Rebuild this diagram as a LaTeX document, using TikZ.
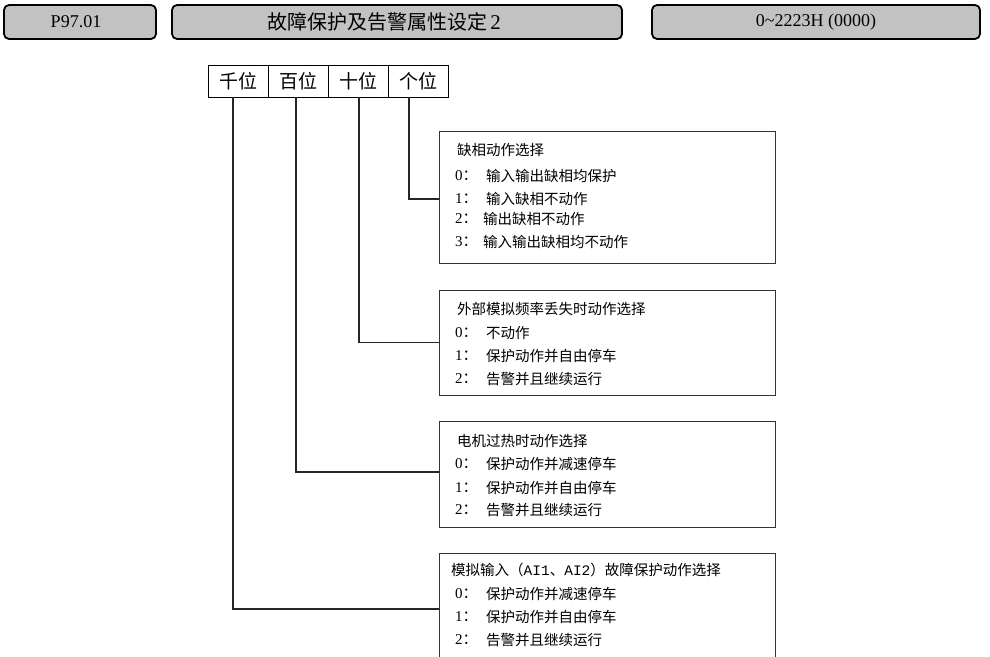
\documentclass[tikz,border=0pt]{standalone}
\usepackage{fontspec}
\setmainfont{Liberation Serif}
\newfontfamily\cjk{Noto Sans CJK SC}
\newfontfamily\mono{Liberation Mono}
\begin{document}
\begin{tikzpicture}[x=1pt,y=-1pt,
  hdr/.style={draw=black, line width=1.8pt, fill=black!24, rounded corners=5pt, inner sep=0pt, minimum height=34pt},
  hdrtext/.style={inner sep=0pt, font=\fontsize{18}{18}\selectfont},
  cell/.style={draw=black, line width=0.8pt, minimum width=60pt, minimum height=32pt, inner sep=0pt, font=\cjk\fontsize{19}{19}\selectfont},
  optbox/.style={draw=black!80, line width=1pt, inner sep=0pt, minimum width=336pt},
  conn/.style={draw=black!85, line width=1.4pt},
  ttl/.style={anchor=west, inner sep=0pt, font=\cjk\fontsize{14.5}{14.5}\selectfont},
  num/.style={anchor=west, inner sep=0pt, font=\fontsize{15}{15}\selectfont},
  opt/.style={anchor=west, inner sep=0pt, font=\cjk\fontsize{14.5}{14.5}\selectfont}]
\useasboundingbox (0,0) rectangle (990,656);

% header boxes
\node[hdr, minimum width=152pt] (h1) at (80,22) {};
\node[hdr, minimum width=450pt] (h2) at (397,22) {};
\node[hdr, minimum width=328pt] (h3) at (816,22) {};
\node[hdrtext] (h1t) at ([xshift=-4pt]h1.center) {P97.01};
\node[hdrtext] (h2t) at ([xshift=-13pt]h2.center) {{\cjk\fontsize{20}{20}\selectfont 故障保护及告警属性设定}\,{\fontsize{21}{21}\selectfont 2}};
\node[hdrtext] (h3t) at (h3.center) {0\textasciitilde2223H (0000)};

% digit table
\node[cell] (c1) at (238,81) {千位};
\node[cell] (c2) at (298,81) {百位};
\node[cell] (c3) at (358,81) {十位};
\node[cell] (c4) at (418,81) {个位};

% option boxes
\node[optbox, minimum height=132pt] (b1) at (607,197) {};
\node[optbox, minimum height=105pt] (b2) at (607,342.5) {};
\node[optbox, minimum height=106pt] (b3) at (607,474) {};
\node[optbox, minimum height=130pt] (b4) at (607,618) {};

% connectors
\draw[conn] ([xshift=-9pt]c4.south) |- ([yshift=-2pt]b1.west);
\draw[conn] ([xshift=1pt]c3.south) |- (b2.west);
\draw[conn] ([xshift=-2pt]c2.south) |- ([yshift=2pt]b3.west);
\draw[conn] ([xshift=-5pt]c1.south) |- ([yshift=9pt]b4.west);

% box 1
\node[ttl] (t1) at (457,150) {缺相动作选择};
\node[num] (n10) at (455,176) {0{\cjk ：}};
\node[opt] (o10) at (486,176) {输入输出缺相均保护};
\node[num] (n11) at (455,199) {1{\cjk ：}};
\node[opt] (o11) at (486,199) {输入缺相不动作};
\node[num] (n12) at (455,219) {2{\cjk ：}};
\node[opt] (o12) at (483,219) {输出缺相不动作};
\node[num] (n13) at (455,242) {3{\cjk ：}};
\node[opt] (o13) at (483,242) {输入输出缺相均不动作};

% box 2
\node[ttl] (t2) at (457,309) {外部模拟频率丢失时动作选择};
\node[num] (n20) at (455,333) {0{\cjk ：}};
\node[opt] (o20) at (486,333) {不动作};
\node[num] (n21) at (455,356) {1{\cjk ：}};
\node[opt] (o21) at (486,356) {保护动作并自由停车};
\node[num] (n22) at (455,379) {2{\cjk ：}};
\node[opt] (o22) at (486,379) {告警并且继续运行};

% box 3
\node[ttl] (t3) at (457,441) {电机过热时动作选择};
\node[num] (n30) at (455,464) {0{\cjk ：}};
\node[opt] (o30) at (486,464) {保护动作并减速停车};
\node[num] (n31) at (455,488) {1{\cjk ：}};
\node[opt] (o31) at (486,488) {保护动作并自由停车};
\node[num] (n32) at (455,510) {2{\cjk ：}};
\node[opt] (o32) at (486,510) {告警并且继续运行};

% box 4
\node[ttl] (t4) at (451,570) {模拟输入（{\mono AI1}、{\mono AI2}）故障保护动作选择};
\node[num] (n40) at (455,594) {0{\cjk ：}};
\node[opt] (o40) at (486,594) {保护动作并减速停车};
\node[num] (n41) at (455,617) {1{\cjk ：}};
\node[opt] (o41) at (486,617) {保护动作并自由停车};
\node[num] (n42) at (455,640) {2{\cjk ：}};
\node[opt] (o42) at (486,640) {告警并且继续运行};
\end{tikzpicture}
\end{document}
